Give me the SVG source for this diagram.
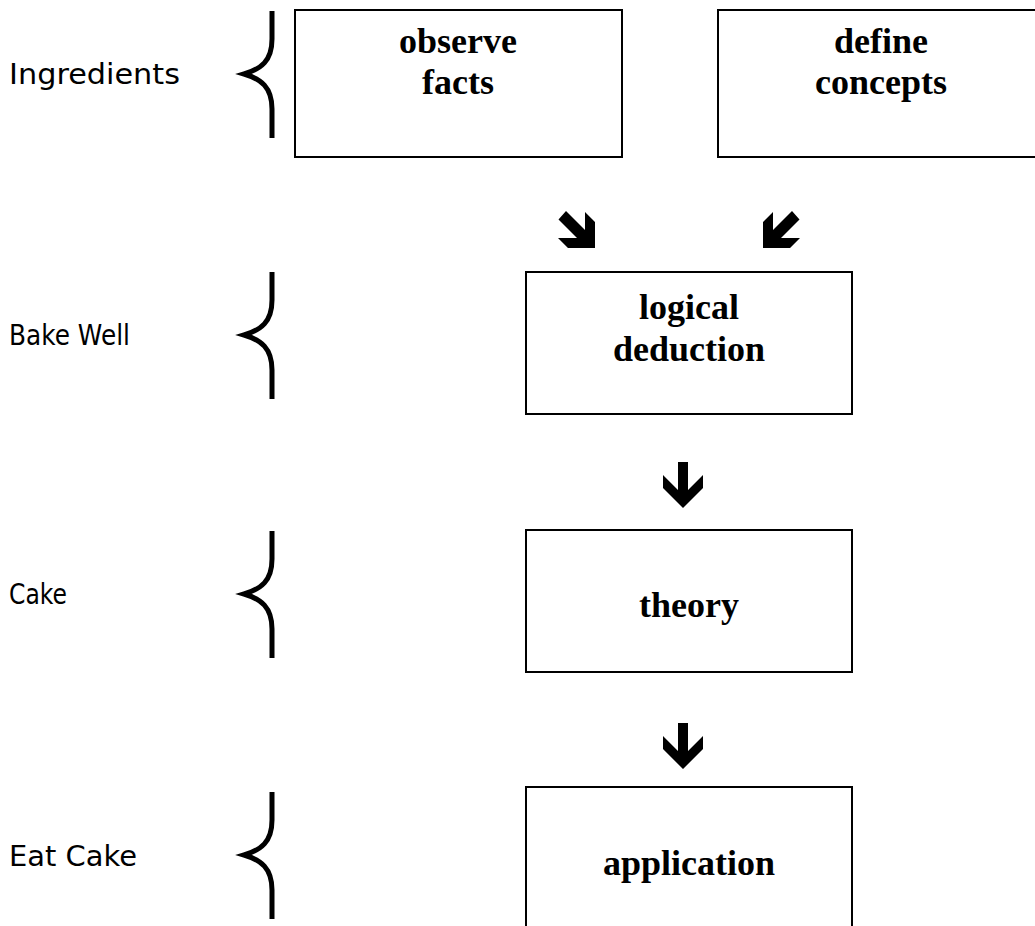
<svg xmlns="http://www.w3.org/2000/svg" width="1035" height="926" viewBox="0 0 1035 926">
<style>
.box{fill:#fff;stroke:#000;stroke-width:2}
.t{font-family:"Liberation Serif","Times New Roman",serif;font-weight:bold;font-size:36px;fill:#000;text-anchor:middle}
.lbl{font-family:"Comic Sans MS","DejaVu Sans",sans-serif;font-size:28px;fill:#000}
.brace{fill:none;stroke:#000;stroke-width:5}
.arr{fill:#000}
</style>
<defs>
<path id="br" d="M0,0 V28 C0,50 -11,58 -28,63 C-11,68 0,76 0,98 V127"/>
<polygon id="dn" points="-5,0 5,0 5,28 20,13 20,26 0,46 -20,26 -20,13 -5,28"/>
<polygon id="dg" points="566,211 585,230 585,212 595,222 595,248 568,248 558,238 577,238 558.5,219.5"/>
</defs>
<rect width="1035" height="926" fill="#fff"/>
<g id="label-ingredients">
<use href="#br" class="brace" x="272" y="11"/>
<text class="lbl" x="9" y="84" textLength="171" lengthAdjust="spacingAndGlyphs">Ingredients</text>
</g>
<g id="label-bakewell">
<use href="#br" class="brace" x="272" y="272"/>
<text class="lbl" x="9" y="345" textLength="121" lengthAdjust="spacingAndGlyphs">Bake Well</text>
</g>
<g id="label-cake">
<use href="#br" class="brace" x="272" y="531"/>
<text class="lbl" x="9" y="604" textLength="58" lengthAdjust="spacingAndGlyphs">Cake</text>
</g>
<g id="label-eatcake">
<use href="#br" class="brace" x="272" y="792"/>
<text class="lbl" x="9" y="866" textLength="128" lengthAdjust="spacingAndGlyphs">Eat Cake</text>
</g>
<g id="node-observe">
<rect class="box" x="295" y="10" width="327" height="147"/>
<text class="t" x="458" y="53">observe</text>
<text class="t" x="458" y="94">facts</text>
</g>
<g id="node-define">
<rect class="box" x="718" y="10" width="340" height="147"/>
<text class="t" x="881" y="53">define</text>
<text class="t" x="881" y="94">concepts</text>
</g>
<g id="node-logical">
<rect class="box" x="526" y="272" width="326" height="142"/>
<text class="t" x="689" y="319">logical</text>
<text class="t" x="689" y="361">deduction</text>
</g>
<g id="node-theory">
<rect class="box" x="526" y="530" width="326" height="142"/>
<text class="t" x="689" y="617">theory</text>
</g>
<g id="node-application">
<rect class="box" x="526" y="787" width="326" height="200"/>
<text class="t" x="689" y="875">application</text>
</g>
<g id="connectors">
<use href="#dg" class="arr"/>
<use href="#dg" class="arr" transform="matrix(-1 0 0 1 1358 0)"/>
<use href="#dn" class="arr" x="683" y="462"/>
<use href="#dn" class="arr" x="683" y="723"/>
</g>
</svg>
